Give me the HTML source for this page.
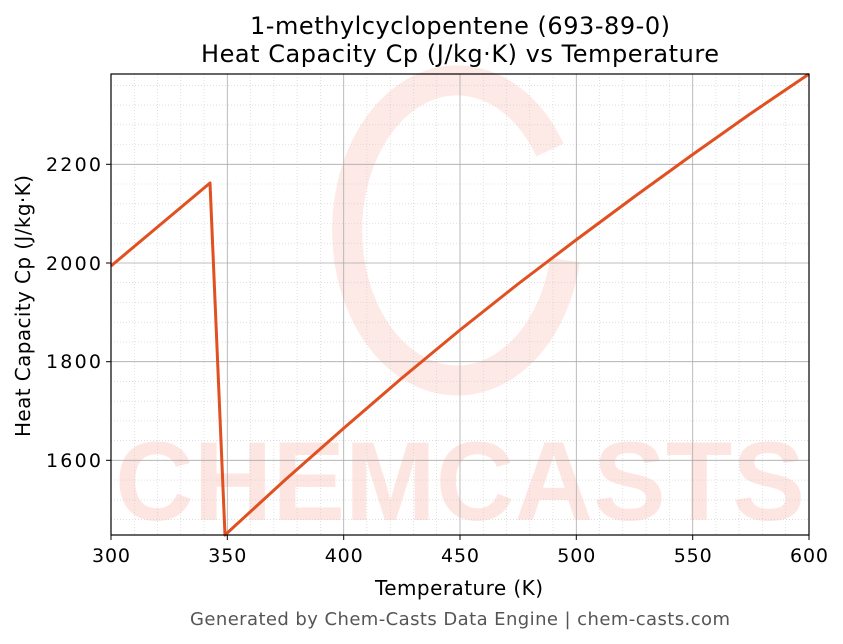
<!DOCTYPE html>
<html><head><meta charset="utf-8"><style>body{margin:0;background:#fff}svg{display:block}</style></head><body>
<svg width="843" height="644" viewBox="0 0 843 644" xmlns="http://www.w3.org/2000/svg" font-family="'DejaVu Sans','Liberation Sans',sans-serif">
<rect width="843" height="644" fill="#fff"/>
<g opacity="0.13" fill="#f04a2a">
<text x="460" y="520" font-size="112" font-weight="bold" text-anchor="middle" font-family="'Liberation Sans',sans-serif" textLength="690" lengthAdjust="spacingAndGlyphs">CHEMCASTS</text>
</g>
<path d="M550,150 A110,150 0 1 0 565,260" fill="none" stroke="#f04a2a" stroke-opacity="0.12" stroke-width="30"/>
<g stroke="#ccc" stroke-width="0.6" stroke-dasharray="1,2">
<line x1="134.3" y1="74" x2="134.3" y2="535"/><line x1="157.5" y1="74" x2="157.5" y2="535"/><line x1="180.8" y1="74" x2="180.8" y2="535"/><line x1="204" y1="74" x2="204" y2="535"/>
<line x1="250.6" y1="74" x2="250.6" y2="535"/><line x1="273.9" y1="74" x2="273.9" y2="535"/><line x1="297.1" y1="74" x2="297.1" y2="535"/><line x1="320.4" y1="74" x2="320.4" y2="535"/>
<line x1="366.9" y1="74" x2="366.9" y2="535"/><line x1="390.2" y1="74" x2="390.2" y2="535"/><line x1="413.4" y1="74" x2="413.4" y2="535"/><line x1="436.7" y1="74" x2="436.7" y2="535"/>
<line x1="483.2" y1="74" x2="483.2" y2="535"/><line x1="506.5" y1="74" x2="506.5" y2="535"/><line x1="529.8" y1="74" x2="529.8" y2="535"/><line x1="553" y1="74" x2="553" y2="535"/>
<line x1="599.6" y1="74" x2="599.6" y2="535"/><line x1="622.8" y1="74" x2="622.8" y2="535"/><line x1="646.1" y1="74" x2="646.1" y2="535"/><line x1="669.3" y1="74" x2="669.3" y2="535"/>
<line x1="715.9" y1="74" x2="715.9" y2="535"/><line x1="739.1" y1="74" x2="739.1" y2="535"/><line x1="762.4" y1="74" x2="762.4" y2="535"/><line x1="785.6" y1="74" x2="785.6" y2="535"/>
<line x1="111" y1="519.6" x2="809" y2="519.6"/><line x1="111" y1="499.9" x2="809" y2="499.9"/><line x1="111" y1="480.1" x2="809" y2="480.1"/>
<line x1="111" y1="440.6" x2="809" y2="440.6"/><line x1="111" y1="420.9" x2="809" y2="420.9"/><line x1="111" y1="401.2" x2="809" y2="401.2"/><line x1="111" y1="381.4" x2="809" y2="381.4"/>
<line x1="111" y1="341.9" x2="809" y2="341.9"/><line x1="111" y1="322.2" x2="809" y2="322.2"/><line x1="111" y1="302.5" x2="809" y2="302.5"/><line x1="111" y1="282.7" x2="809" y2="282.7"/>
<line x1="111" y1="243.2" x2="809" y2="243.2"/><line x1="111" y1="223.5" x2="809" y2="223.5"/><line x1="111" y1="203.8" x2="809" y2="203.8"/><line x1="111" y1="184" x2="809" y2="184"/>
<line x1="111" y1="144.5" x2="809" y2="144.5"/><line x1="111" y1="124.8" x2="809" y2="124.8"/><line x1="111" y1="105.1" x2="809" y2="105.1"/><line x1="111" y1="85.3" x2="809" y2="85.3"/>
</g>
<g stroke="#aaa" stroke-width="0.8">
<line x1="227.3" y1="74" x2="227.3" y2="535"/><line x1="343.7" y1="74" x2="343.7" y2="535"/><line x1="460" y1="74" x2="460" y2="535"/><line x1="576.3" y1="74" x2="576.3" y2="535"/><line x1="692.7" y1="74" x2="692.7" y2="535"/>
<line x1="111" y1="460.3" x2="809" y2="460.3"/><line x1="111" y1="361.7" x2="809" y2="361.7"/><line x1="111" y1="263" x2="809" y2="263"/><line x1="111" y1="164.3" x2="809" y2="164.3"/>
</g>
<polyline fill="none" stroke="#e05020" stroke-width="3" stroke-linejoin="round" points="111,266 210,183 225,535 285,480 344,428 402,378 460,330 518,284 576,240 634,197 692,155 750,114 809,74"/>
<rect x="111" y="74" width="698" height="461" fill="none" stroke="#000" stroke-width="1.2"/>
<g stroke="#000" stroke-width="1">
<line x1="111" y1="535" x2="111" y2="540"/><line x1="227.3" y1="535" x2="227.3" y2="540"/><line x1="343.7" y1="535" x2="343.7" y2="540"/><line x1="460" y1="535" x2="460" y2="540"/><line x1="576.3" y1="535" x2="576.3" y2="540"/><line x1="692.7" y1="535" x2="692.7" y2="540"/><line x1="809" y1="535" x2="809" y2="540"/>
<line x1="106" y1="460.3" x2="111" y2="460.3"/><line x1="106" y1="361.7" x2="111" y2="361.7"/><line x1="106" y1="263" x2="111" y2="263"/><line x1="106" y1="164.3" x2="111" y2="164.3"/>
</g>
<g font-size="19" fill="#000" text-anchor="middle" lengthAdjust="spacingAndGlyphs">
<text x="111" y="562" textLength="38">300</text><text x="227.3" y="562" textLength="38">350</text><text x="343.7" y="562" textLength="38">400</text><text x="460" y="562" textLength="38">450</text><text x="576.3" y="562" textLength="38">500</text><text x="692.7" y="562" textLength="38">550</text><text x="809" y="562" textLength="38">600</text>
</g>
<g font-size="19" fill="#000" text-anchor="end">
<text x="101" y="467" textLength="55">1600</text><text x="101" y="368" textLength="55">1800</text><text x="101" y="270" textLength="55">2000</text><text x="101" y="171" textLength="55">2200</text>
</g>
<text x="459" y="595" font-size="20" text-anchor="middle" textLength="168">Temperature (K)</text>
<text transform="translate(30,306) rotate(-90)" font-size="20" text-anchor="middle" textLength="262">Heat Capacity Cp (J/kg·K)</text>
<text x="460" y="34" font-size="24" text-anchor="middle" textLength="420">1-methylcyclopentene (693-89-0)</text>
<text x="460" y="62" font-size="24" text-anchor="middle" textLength="518">Heat Capacity Cp (J/kg·K) vs Temperature</text>
<text x="460" y="625" font-size="18" fill="#555" text-anchor="middle" textLength="540">Generated by Chem-Casts Data Engine | chem-casts.com</text>
</svg>
</body></html>
